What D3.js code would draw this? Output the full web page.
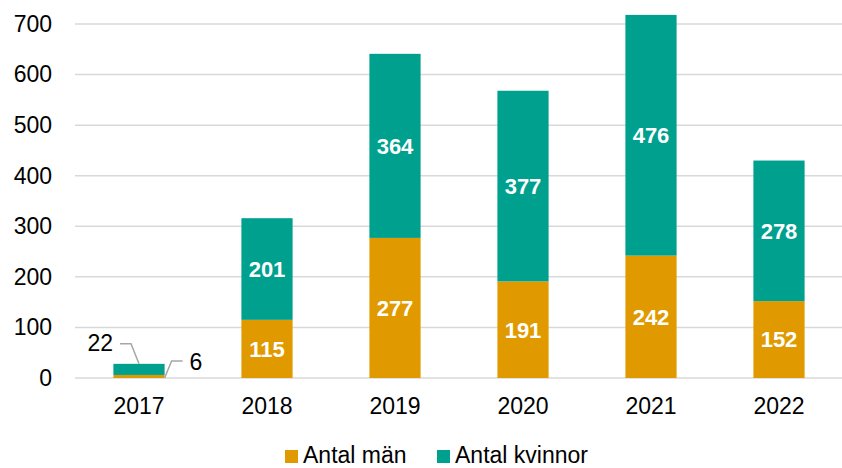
<!DOCTYPE html>
<html>
<head>
<meta charset="utf-8">
<script src="https://cdn.jsdelivr.net/npm/d3@7"></script>
<style>
  body { margin: 0; background: white; }
  svg text { font-family: "Liberation Sans", Arial, sans-serif; }
</style>
</head>
<body>
<script>
// data
var years = ["2017", "2018", "2019", "2020", "2021", "2022"];
var men = [6, 115, 277, 191, 242, 152];
var women = [22, 201, 364, 377, 476, 278];
var seriesNames = ["Antal män", "Antal kvinnor"];
var yTicks = [0, 100, 200, 300, 400, 500, 600, 700];

var colors = ["#e09a00", "#00a08f"];

var w = 842, h = 468;
var margin = {top: 24, right: -1, bottom: 90, left: 75};

var svg = d3.select("body")
            .append("svg")
            .attr("width", w)
            .attr("height", h);

var xScale = d3.scaleBand()
               .domain(years)
               .range([margin.left, w - margin.right])
               .paddingInner(0.6)
               .paddingOuter(0.3);

var yScale = d3.scaleLinear()
               .domain([0, 700])
               .range([h - margin.bottom, margin.top]);

// gridlines
svg.append("g")
   .selectAll("line")
   .data(yTicks)
   .enter().append("line")
    .attr("x1", margin.left)
    .attr("x2", w)
    .attr("y1", function(d) { return yScale(d); })
    .attr("y2", function(d) { return yScale(d); })
    .style("stroke", "#d9d9d9")
    .style("stroke-width", 1.5);

// y axis labels
var yAxis = svg.append("g")
   .attr("transform", "translate(" + (margin.left - 23) + ",0)")
   .call(d3.axisLeft(yScale).tickValues(yTicks).tickSize(0).tickPadding(0));
yAxis.select(".domain").remove();
yAxis.selectAll("text")
     .style("font-size", "23px")
     .style("fill", "#000")
     .style("font-family", "Liberation Sans, Arial, sans-serif");

// x axis labels
var xAxis = svg.append("g")
   .attr("transform", "translate(0," + yScale(0) + ")")
   .call(d3.axisBottom(xScale).tickSize(0).tickPadding(20));
xAxis.select(".domain").remove();
xAxis.selectAll("text")
     .style("font-size", "23px")
     .style("fill", "#000")
     .style("font-family", "Liberation Sans, Arial, sans-serif");

// stacked data
var stacked = years.map(function(y, i) {
  return {year: y, men: men[i], women: women[i]};
});

// men bars
svg.selectAll(".bar_men")
   .data(stacked)
   .enter().append("rect")
    .attr("class", "bar_men")
    .attr("x", function(d) { return xScale(d.year); })
    .attr("width", xScale.bandwidth())
    .attr("y", function(d) { return yScale(d.men); })
    .attr("height", function(d) { return yScale(0) - yScale(d.men); })
    .style("fill", colors[0]);

// women bars
svg.selectAll(".bar_women")
   .data(stacked)
   .enter().append("rect")
    .attr("class", "bar_women")
    .attr("x", function(d) { return xScale(d.year); })
    .attr("width", xScale.bandwidth())
    .attr("y", function(d) { return yScale(d.men + d.women); })
    .attr("height", function(d) { return yScale(d.men) - yScale(d.men + d.women); })
    .style("fill", colors[1]);

// labels inside bars (not 2017, too small)
var big = stacked.filter(function(d) { return d.men > 50; });

svg.selectAll(".lab_men")
   .data(big)
   .enter().append("text")
    .attr("x", function(d) { return xScale(d.year) + xScale.bandwidth() / 2; })
    .attr("y", function(d) { return yScale(d.men / 2); })
    .attr("dy", "0.36em")
    .style("text-anchor", "middle")
    .style("font-size", "22px")
    .style("font-weight", "bold")
    .style("fill", "white")
    .text(function(d) { return d.men; });

svg.selectAll(".lab_women")
   .data(big)
   .enter().append("text")
    .attr("x", function(d) { return xScale(d.year) + xScale.bandwidth() / 2; })
    .attr("y", function(d) { return yScale(d.men + d.women / 2); })
    .attr("dy", "0.36em")
    .style("text-anchor", "middle")
    .style("font-size", "22px")
    .style("font-weight", "bold")
    .style("fill", "white")
    .text(function(d) { return d.women; });

// callouts for 2017
var first = stacked[0];
var bx = xScale(first.year);
var bw = xScale.bandwidth();
var topY = yScale(first.men + first.women);

svg.append("path")
   .attr("d", "M" + (bx + bw / 2) + "," + topY + " L" + (bx + bw / 2 - 8) + "," + (topY - 20) + " L" + (bx + bw / 2 - 19) + "," + (topY - 20))
   .style("fill", "none")
   .style("stroke", "#a6a6a6")
   .style("stroke-width", 1.5);

svg.append("text")
   .attr("x", bx + bw / 2 - 26)
   .attr("y", topY - 21)
   .attr("dy", "0.36em")
   .style("text-anchor", "end")
   .style("font-size", "23px")
   .text(first.women);

svg.append("path")
   .attr("d", "M" + (bx + bw) + "," + yScale(0) + " L" + (bx + bw + 7) + "," + (yScale(0) - 17) + " L" + (bx + bw + 18) + "," + (yScale(0) - 17))
   .style("fill", "none")
   .style("stroke", "#a6a6a6")
   .style("stroke-width", 1.5);

svg.append("text")
   .attr("x", bx + bw + 25)
   .attr("y", yScale(0) - 16)
   .attr("dy", "0.36em")
   .style("font-size", "23px")
   .text(first.men);

// legend
var legend = svg.append("g")
   .attr("transform", "translate(285, 450)");

var legX = [0, 152];

legend.selectAll("rect")
   .data(seriesNames)
   .enter().append("rect")
    .attr("x", function(d, i) { return legX[i]; })
    .attr("y", 0)
    .attr("width", 13)
    .attr("height", 13)
    .style("fill", function(d, i) { return colors[i]; });

legend.selectAll("text")
   .data(seriesNames)
   .enter().append("text")
    .attr("x", function(d, i) { return legX[i] + 18; })
    .attr("y", 13)
    .style("font-size", "23px")
    .text(function(d) { return d; });
</script>
</body>
</html>
